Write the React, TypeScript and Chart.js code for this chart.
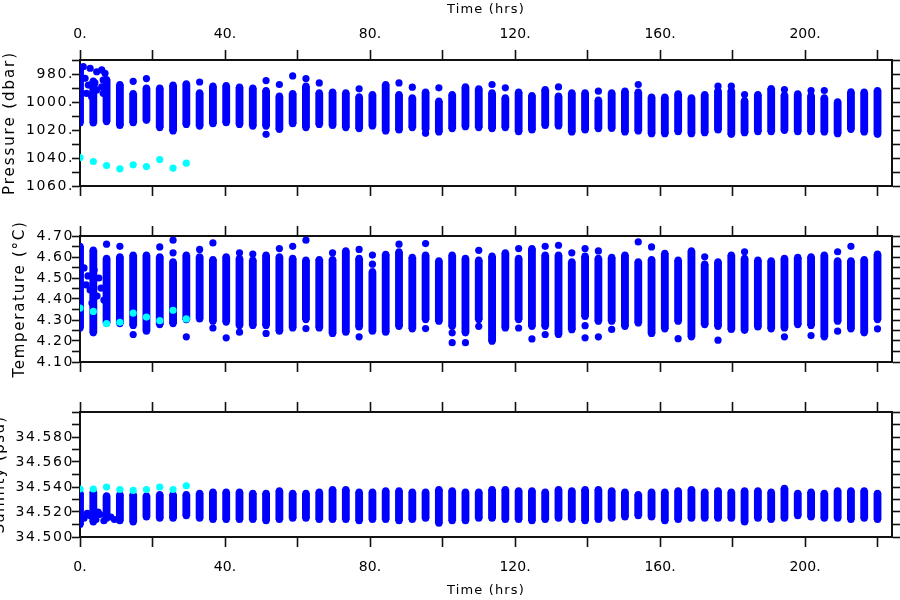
import React, { useEffect, useRef } from 'react';
import { Chart, registerables } from 'chart.js';

Chart.register(...registerables);

// ---------------- data ----------------
const times = [0, 3.67, 7.33, 11, 14.67, 18.33, 22, 25.67, 29.33, 33, 36.67, 40.33, 44, 47.67, 51.33, 55, 58.67, 62.33, 66, 69.67, 73.33, 77, 80.67, 84.33, 88, 91.67, 95.33, 99, 102.67, 106.33, 110, 113.67, 117.33, 121, 124.67, 128.33, 132, 135.67, 139.33, 143, 146.67, 150.33, 154, 157.67, 161.33, 165, 168.67, 172.33, 176, 179.67, 183.33, 187, 190.67, 194.33, 198, 201.67, 205.33, 209, 212.67, 216.33, 220];

const cyanTimes = [0, 3.67, 7.33, 11, 14.67, 18.33, 22, 25.67, 29.33];

// Pressure (dbar): shallow and deep end of each profile column
const pressureTop = [977, 985, 984, 987.5, 994, 990, 990, 988, 987, 993.5, 988.7, 988.3, 989.4, 990, 991.8, 995.8, 994, 988.7, 993.5, 993, 993.5, 996.3, 994.7, 987.5, 994.7, 997, 993, 999.4, 994.7, 989.2, 990.6, 993.5, 997, 993, 995.4, 991.1, 995.8, 993.5, 993.5, 998.7, 993.5, 992.3, 993, 996.5, 996.5, 994.2, 997, 994.7, 992, 992, 999, 994.7, 990.4, 995, 994.2, 995.5, 997, 999.9, 992.8, 993, 991.8];
const pressureBottom = [1015, 1015, 1014, 1016.7, 1014.8, 1013.1, 1018.3, 1020.7, 1016, 1017.2, 1015.5, 1014.8, 1016, 1017.2, 1017.2, 1019.5, 1015.5, 1018.3, 1016, 1016.7, 1018.3, 1019, 1017.1, 1020.7, 1020, 1018.3, 1019.5, 1021.4, 1019, 1017.6, 1018.3, 1019, 1018.3, 1021.2, 1020, 1016.7, 1017.1, 1021.4, 1020, 1019, 1018.8, 1021.4, 1020.7, 1022.6, 1022.6, 1021.2, 1022.6, 1021.9, 1020, 1023.1, 1021.9, 1021.2, 1021.2, 1020.2, 1021.2, 1021.2, 1021.4, 1022.6, 1019.5, 1021.4, 1023.1];
const pressureExtra: [number, number][] = [
  [14.67, 985.2], [18.33, 983.3], [33, 985.7], [51.33, 984.7], [51.33, 1023.1], [55, 987.5], [58.67, 981.4], [62.33, 983.3], [66, 986.4], [77, 990.6], [88, 986.4], [91.67, 989.4], [95.33, 1022.4], [99, 989.9], [113.67, 987.5], [117.33, 989.9], [132, 989.2], [143, 992.3], [154, 987.5], [176, 988.7], [179.67, 988.7], [183.33, 994.7], [194.33, 991.1], [201.67, 991.8], [205.33, 991.8],
  [0.9, 974.8], [2.8, 975.9], [4.6, 978.4], [6.0, 977.1], [6.9, 979.5], [6.4, 984.3], [6.0, 989.1], [6.4, 993.8], [1.4, 983.1], [2.3, 987.9], [1.8, 993.8], [4.1, 986.4], [4.6, 991.4], [3.2, 996.2],
];
const pressureCyan = [1039.7, 1042.5, 1045.4, 1047.7, 1044.9, 1046.1, 1041.1, 1047.2, 1043.7];

// Temperature (°C)
const temperatureTop = [4.651, 4.633, 4.593, 4.601, 4.609, 4.609, 4.601, 4.577, 4.609, 4.601, 4.588, 4.601, 4.593, 4.585, 4.609, 4.601, 4.593, 4.585, 4.588, 4.588, 4.629, 4.593, 4.530, 4.613, 4.624, 4.598, 4.609, 4.582, 4.609, 4.593, 4.585, 4.604, 4.620, 4.593, 4.640, 4.609, 4.609, 4.577, 4.604, 4.593, 4.598, 4.609, 4.577, 4.588, 4.617, 4.585, 4.629, 4.566, 4.577, 4.609, 4.593, 4.585, 4.582, 4.593, 4.598, 4.601, 4.609, 4.582, 4.582, 4.588, 4.614];
const temperatureBottom = [4.262, 4.239, 4.286, 4.283, 4.274, 4.247, 4.278, 4.283, 4.302, 4.305, 4.294, 4.290, 4.274, 4.274, 4.274, 4.247, 4.262, 4.302, 4.262, 4.236, 4.242, 4.267, 4.247, 4.242, 4.270, 4.258, 4.302, 4.294, 4.270, 4.239, 4.302, 4.199, 4.262, 4.302, 4.270, 4.270, 4.231, 4.254, 4.317, 4.294, 4.294, 4.270, 4.286, 4.236, 4.258, 4.294, 4.220, 4.278, 4.270, 4.255, 4.251, 4.267, 4.258, 4.262, 4.278, 4.274, 4.220, 4.294, 4.258, 4.239, 4.302];
const temperatureExtra: [number, number][] = [
  [7.33, 4.661], [11, 4.651], [14.67, 4.231], [22, 4.648], [25.67, 4.680], [25.67, 4.620], [29.33, 4.220], [33, 4.636], [36.67, 4.667], [36.67, 4.262], [40.33, 4.215], [44, 4.620], [44, 4.242], [47.67, 4.614], [51.33, 4.236], [55, 4.640], [58.67, 4.651], [62.33, 4.680], [62.33, 4.259], [69.67, 4.620], [77, 4.636], [77, 4.220], [80.67, 4.609], [80.67, 4.566], [88, 4.661], [95.33, 4.664], [95.33, 4.259], [102.67, 4.239], [102.67, 4.192], [106.33, 4.192], [110, 4.632], [110, 4.270], [121, 4.640], [121, 4.262], [124.67, 4.210], [128.33, 4.651], [128.33, 4.231], [132, 4.656], [135.67, 4.620], [139.33, 4.640], [139.33, 4.273], [139.33, 4.215], [143, 4.629], [143, 4.220], [146.67, 4.255], [154, 4.672], [157.67, 4.648], [165, 4.211], [172.33, 4.601], [176, 4.204], [183.33, 4.625], [194.33, 4.220], [201.67, 4.226], [209, 4.625], [209, 4.247], [212.67, 4.651], [220, 4.258],
  [1.1, 4.548], [2.2, 4.510], [3.9, 4.538], [5.2, 4.500], [5.8, 4.452], [4.7, 4.414], [3.3, 4.381], [1.7, 4.467], [2.8, 4.443], [6.6, 4.395],
];
const temperatureCyan = [4.357, 4.341, 4.283, 4.289, 4.333, 4.314, 4.297, 4.346, 4.305];

// Salinity (psu)
const salinityTop = [34.535, 34.536, 34.533, 34.534, 34.534, 34.533, 34.534, 34.534, 34.534, 34.535, 34.536, 34.536, 34.536, 34.535, 34.535, 34.537, 34.535, 34.535, 34.536, 34.538, 34.538, 34.536, 34.536, 34.537, 34.537, 34.536, 34.536, 34.538, 34.537, 34.536, 34.536, 34.538, 34.538, 34.537, 34.537, 34.536, 34.538, 34.537, 34.538, 34.538, 34.537, 34.536, 34.534, 34.536, 34.536, 34.537, 34.538, 34.536, 34.537, 34.536, 34.537, 34.537, 34.536, 34.539, 34.535, 34.536, 34.535, 34.537, 34.537, 34.537, 34.535];
const salinityBottom = [34.510, 34.512, 34.515, 34.513, 34.512, 34.516, 34.515, 34.515, 34.517, 34.515, 34.514, 34.514, 34.514, 34.514, 34.513, 34.514, 34.515, 34.515, 34.514, 34.514, 34.514, 34.513, 34.514, 34.514, 34.513, 34.514, 34.515, 34.511, 34.513, 34.513, 34.515, 34.515, 34.514, 34.514, 34.513, 34.514, 34.515, 34.514, 34.513, 34.514, 34.515, 34.516, 34.517, 34.516, 34.513, 34.514, 34.515, 34.515, 34.515, 34.515, 34.512, 34.515, 34.514, 34.515, 34.517, 34.516, 34.515, 34.515, 34.514, 34.515, 34.514];
const salinityExtra: [number, number][] = [
  [1.1, 34.515], [2.8, 34.517], [4.4, 34.514], [5.5, 34.518], [6.6, 34.513], [8.5, 34.516], [9.5, 34.514], [2.0, 34.519], [5.0, 34.520],
];
const salinityCyan = [34.5384, 34.5384, 34.540, 34.538, 34.5373, 34.538, 34.540, 34.538, 34.541];

// ---------------- ticks ----------------
const xTickValues = [0, 20, 40, 60, 80, 100, 120, 140, 160, 180, 200, 220];
const xTickLabels = ['0.', '', '40.', '', '80.', '', '120.', '', '160.', '', '200.', ''];
const pressureTickValues = [970, 980, 990, 1000, 1010, 1020, 1030, 1040, 1050, 1060];
const pressureTickLabels = ['', '980.', '', '1000.', '', '1020.', '', '1040.', '', '1060.'];
const temperatureTickValues = [4.10, 4.15, 4.20, 4.25, 4.30, 4.35, 4.40, 4.45, 4.50, 4.55, 4.60, 4.65, 4.70];
const temperatureTickLabels = ['4.10', '', '4.20', '', '4.30', '', '4.40', '', '4.50', '', '4.60', '', '4.70'];
const salinityTickValues = [34.50, 34.51, 34.52, 34.53, 34.54, 34.55, 34.56, 34.57, 34.58, 34.59, 34.60];
const salinityTickLabels = ['34.500', '', '34.520', '', '34.540', '', '34.560', '', '34.580', '', ''];

// ---------------- styles ----------------
const FONT = 'DejaVu Sans';
const LINE = '#111111';
const BLUE = '#0000ff';
const CYAN = '#00ffff';
const DOT_R = 3.6;
const X_MIN = 0;
const X_MAX = 224;

type TitleSpec = { text: string; x?: number; y: number; rotate: boolean; size: number; width: number };

function titlePlugin(items: TitleSpec[]) {
  return {
    id: 'axisTitles',
    beforeDraw(chart: any) {
      chart.ctx.letterSpacing = '0px';
    },
    afterDatasetsDraw(chart: any) {
      chart.ctx.letterSpacing = '1.6px';
    },
    afterDraw(chart: any) {
      const ctx = chart.ctx;
      ctx.letterSpacing = '0px';
      const area = chart.chartArea;
      for (const t of items) {
        ctx.save();
        ctx.font = `${t.size}px "${FONT}"`;
        ctx.letterSpacing = '0px';
        const w0 = ctx.measureText(t.text).width;
        const ls = (t.width - w0) / t.text.length;
        ctx.letterSpacing = `${ls}px`;
        ctx.fillStyle = '#000';
        ctx.textAlign = 'center';
        ctx.textBaseline = 'alphabetic';
        if (t.rotate) {
          ctx.translate(t.x as number, t.y);
          ctx.rotate(-Math.PI / 2);
          ctx.fillText(t.text, 0, 0);
        } else {
          const cx = t.x !== undefined ? t.x : (area.left + area.right) / 2;
          ctx.fillText(t.text, cx, t.y);
        }
        ctx.restore();
      }
      ctx.letterSpacing = '0px';
    },
  };
}

function xAxis(position: 'top' | 'bottom', showLabels: boolean, height: number, padding: number) {
  return {
    type: 'linear',
    position,
    min: X_MIN,
    max: X_MAX,
    offset: false,
    afterBuildTicks: (s: any) => { s.ticks = xTickValues.map((v) => ({ value: v })); },
    afterFit: (s: any) => { s.height = height; },
    ticks: {
      autoSkip: false, maxRotation: 0, minRotation: 0, padding,
      color: '#000', font: { family: FONT, size: 14 },
      callback: (_v: any, i: number) => (showLabels ? xTickLabels[i] : ''),
    },
    grid: { offset: false, drawOnChartArea: false, drawTicks: true, tickLength: 10, tickWidth: 1.6, tickColor: LINE },
    border: { display: true, color: LINE, width: 2 },
  };
}

function yAxis(position: 'left' | 'right', min: number, max: number, reverse: boolean, values: number[], labels: string[] | null, width: number) {
  return {
    type: 'linear',
    position,
    min, max, reverse,
    beginAtZero: false,
    offset: false,
    afterBuildTicks: (s: any) => { s.ticks = values.map((v) => ({ value: v })); },
    afterFit: (s: any) => { s.width = width; },
    ticks: {
      autoSkip: false, z: 1, padding: -2,
      color: '#000', font: { family: FONT, size: 14 },
      callback: (_v: any, i: number) => (labels ? labels[i] : ''),
    },
    grid: { offset: false, drawOnChartArea: false, drawTicks: true, tickLength: 8, tickWidth: 1.6, tickColor: LINE },
    border: { display: true, color: LINE, width: 2 },
  };
}

type PanelSpec = {
  top: number[]; bottom: number[]; extra: [number, number][]; cyan: number[];
  min: number; max: number; reverse: boolean; tickValues: number[]; tickLabels: string[];
  topLabels: boolean; bottomLabels: boolean; topH: number; bottomH: number;
  topPad: number; bottomPad: number; titles: TitleSpec[];
};

function makeConfig(p: PanelSpec): any {
  const bars = times.map((t, i) => ({ x: t, y: [p.bottom[i], p.top[i]] }));
  const ends = times.flatMap((t, i) => [{ x: t, y: p.top[i] }, { x: t, y: p.bottom[i] }]);
  const extras = p.extra.map(([t, v]) => ({ x: t, y: v }));
  const cyan = cyanTimes.map((t, i) => ({ x: t, y: p.cyan[i] }));
  const pointStyle = { pointRadius: DOT_R, pointBorderWidth: 0, pointHoverRadius: DOT_R, showLine: false, clip: 0 };
  return {
    type: 'scatter',
    data: {
      datasets: [
        { type: 'bar', data: bars, backgroundColor: BLUE, borderWidth: 0, barThickness: DOT_R * 2, grouped: false, order: 3, clip: 0, xAxisID: 'x', yAxisID: 'y' },
        { type: 'scatter', data: ends.concat(extras), pointBackgroundColor: BLUE, pointBorderColor: BLUE, order: 2, xAxisID: 'x', yAxisID: 'y', ...pointStyle },
        { type: 'scatter', data: cyan, pointBackgroundColor: CYAN, pointBorderColor: CYAN, order: 1, xAxisID: 'x', yAxisID: 'y', ...pointStyle },
      ],
    },
    options: {
      responsive: false,
      animation: false,
      devicePixelRatio: 1,
      events: [],
      layout: { padding: 0 },
      plugins: { legend: { display: false }, tooltip: { enabled: false } },
      scales: {
        x: xAxis('bottom', p.bottomLabels, p.bottomH, p.bottomPad),
        x2: xAxis('top', p.topLabels, p.topH, p.topPad),
        y: yAxis('left', p.min, p.max, p.reverse, p.tickValues, p.tickLabels, 80),
        y2: yAxis('right', p.min, p.max, p.reverse, p.tickValues, null, 8),
      },
    },
    plugins: [titlePlugin(p.titles)],
  };
}

const panels: PanelSpec[] = [
  {
    top: pressureTop, bottom: pressureBottom, extra: pressureExtra, cyan: pressureCyan,
    min: 970, max: 1060, reverse: true, tickValues: pressureTickValues, tickLabels: pressureTickLabels,
    topLabels: true, bottomLabels: false, topH: 60, bottomH: 14, topPad: 7, bottomPad: 0,
    titles: [
      { text: 'Time (hrs)', y: 13, rotate: false, size: 13, width: 78 },
      { text: 'Pressure (dbar)', x: 14, y: 123, rotate: true, size: 15, width: 144 },
    ],
  },
  {
    top: temperatureTop, bottom: temperatureBottom, extra: temperatureExtra, cyan: temperatureCyan,
    min: 4.10, max: 4.70, reverse: false, tickValues: temperatureTickValues, tickLabels: temperatureTickLabels,
    topLabels: false, bottomLabels: false, topH: 36, bottomH: 38, topPad: 0, bottomPad: 0,
    titles: [
      { text: 'Temperature (°C)', x: 24, y: 99, rotate: true, size: 15, width: 157 },
    ],
  },
  {
    top: salinityTop, bottom: salinityBottom, extra: salinityExtra, cyan: salinityCyan,
    min: 34.50, max: 34.60, reverse: false, tickValues: salinityTickValues, tickLabels: salinityTickLabels,
    topLabels: false, bottomLabels: true, topH: 12, bottomH: 63, topPad: 0, bottomPad: 12,
    titles: [
      { text: 'Time (hrs)', y: 194, rotate: false, size: 13, width: 78 },
      { text: 'Salinity (psu)', x: 4, y: 74.5, rotate: true, size: 15, width: 118 },
    ],
  },
];

export default function App() {
  const r0 = useRef<HTMLCanvasElement>(null);
  const r1 = useRef<HTMLCanvasElement>(null);
  const r2 = useRef<HTMLCanvasElement>(null);

  useEffect(() => {
    const refs = [r0, r1, r2];
    const charts = refs.map((r, i) => new Chart(r.current as HTMLCanvasElement, makeConfig(panels[i])));
    return () => charts.forEach((c) => c.destroy());
  }, []);

  const cs = (top: number): React.CSSProperties => ({ position: 'absolute', left: 0, top, width: 900, height: 200, display: 'block' });

  return (
    <div style={{ position: 'absolute', left: 0, top: 0, width: 900, height: 600, background: '#ffffff' }}>
      <canvas ref={r0} width={900} height={200} style={cs(0)} />
      <canvas ref={r1} width={900} height={200} style={cs(200)} />
      <canvas ref={r2} width={900} height={200} style={cs(400)} />
    </div>
  );
}
